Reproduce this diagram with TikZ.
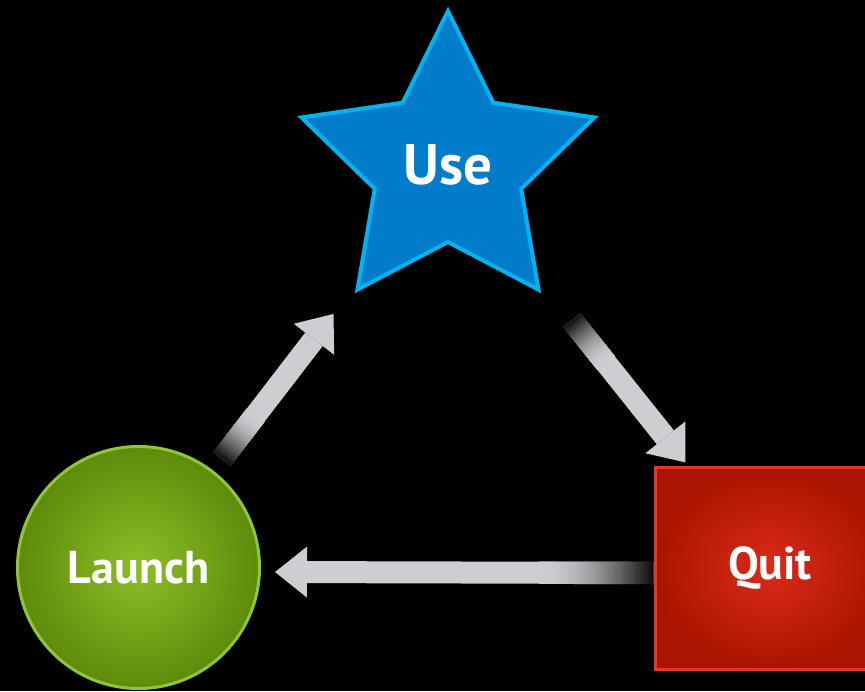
\documentclass[tikz,border=0pt]{standalone}
\usepackage{fontspec}
\setmainfont{PT Sans}
\usetikzlibrary{arrows.meta, positioning, calc, shapes.geometric}
\definecolor{starblue}{HTML}{007CCB}
\definecolor{starline}{HTML}{00B4F0}
\definecolor{leafin}{HTML}{8DBE28}
\definecolor{leafout}{HTML}{5E8B0B}
\definecolor{leafline}{HTML}{8FC63A}
\definecolor{quitin}{HTML}{DC2A1A}
\definecolor{quitout}{HTML}{A91500}
\definecolor{quitline}{HTML}{E4372A}
\definecolor{arrowgray}{HTML}{CDCDD2}

\begin{document}
\begin{tikzpicture}[
  x=1pt, y=-1pt,
  stage/.style={text=white, font=\bfseries\fontsize{46}{50}\selectfont},
  flow/.style={line width=22pt, draw=arrowgray,
               -{Triangle[width=51pt, length=32pt, line width=0pt]}},
]
\fill[black, use as bounding box] (0,0) rectangle (865,691);

\node[stage, star, star points=5, star point ratio=2, minimum size=308pt,
      draw=starline, fill=starblue, line width=4pt,
      font=\bfseries\fontsize{57}{60}\selectfont] (use) at (448,165) {Use};
\node[stage, circle, minimum size=242pt, draw=leafline, line width=3pt,
      inner color=leafin, outer color=leafout] (launch) at (138.5,567.5) {Launch};
\node[stage, rectangle, minimum width=230pt, minimum height=202pt,
      draw=quitline, line width=3pt,
      inner color=quitin, outer color=quitout] (quit) at (770,568.5) {Quit};

% arrow ends
\coordinate (t1) at ($(launch)!0.27!(use)$);
\coordinate (h1) at ($(launch)!0.63!(use)$);
\coordinate (t2) at ($(use)!0.385!(quit)$);
\coordinate (h2) at ($(use)!0.737!(quit)$);
\coordinate (t3) at ([yshift=-4.5pt]quit.west);
\coordinate (h3) at ([yshift=-4.5pt, xshift=14pt]launch.east);

\foreach \t/\h in {t1/h1, t2/h2, t3/h3} {
  \draw[flow] (\t) -- (\h);
  % tail fades into the background
  \foreach \k [evaluate=\k as \a using \k/200,
               evaluate=\k as \b using (\k+1.6)/200,
               evaluate=\k as \p using int(8+92*sin(90*\k/59))] in {0,...,59}
    \draw[line width=22.4pt, draw=arrowgray!\p!black]
      ($(\t)!\a!(\h)$) -- ($(\t)!\b!(\h)$);
}
\end{tikzpicture}
\end{document}
